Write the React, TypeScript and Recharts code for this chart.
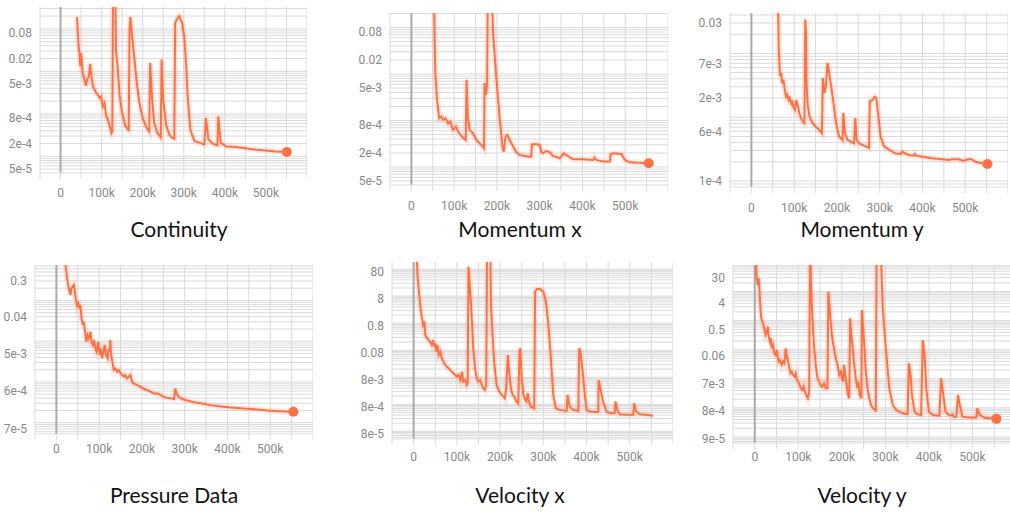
import { LineChart, Line, XAxis, YAxis, CartesianGrid, ReferenceLine, ReferenceDot } from 'recharts';

// [step (k), value]
const continuity: [number, number][] = [
    [40, 0.19], [44, 0.04], [46, 0.027], [48, 0.013], [50, 0.027], [54, 0.009], [58, 6.4e-3], [62, 4.6e-3], [65, 6.5e-3], [69, 7.5e-3],
    [72, 0.015], [75, 8e-3], [79, 4.4e-3], [83, 3.7e-3], [87, 3.1e-3], [91, 2.8e-3], [95, 2.4e-3], [99, 2.6e-3], [103, 1.5e-3], [107, 1.8e-3],
    [111, 9e-4], [115, 7.5e-4], [119, 5.5e-4], [124, 3.5e-4], [126, 3.8e-4], [128, 2], [133, 2], [135, 0.03], [139, 0.013], [144, 2.6e-3],
    [150, 1.05e-3], [157, 5.5e-4], [162, 4.5e-4], [166, 4.2e-4], [168, 0.1], [170, 0.19], [174, 0.07], [178, 0.03], [182, 0.012], [186, 5e-3],
    [192, 1.8e-3], [200, 8e-4], [208, 5e-4], [216, 3.8e-4], [218, 0.016], [223, 2.2e-3], [228, 6.1e-4], [236, 3.5e-4], [244, 2.8e-4], [246, 0.019],
    [250, 2.2e-3], [257, 5.5e-4], [265, 3.2e-4], [273, 2.7e-4], [277, 2.6e-4], [279, 0.137], [285, 0.18], [289, 0.2], [296, 0.137], [301, 0.067],
    [305, 0.019], [310, 2.2e-3], [316, 4.2e-4], [326, 2.3e-4], [338, 2.1e-4], [350, 1.9e-4], [354, 8e-4], [360, 2.5e-4], [370, 2e-4], [382, 1.8e-4],
    [384, 8.7e-4], [390, 2.1e-4], [403, 1.7e-4], [427, 1.65e-4], [451, 1.55e-4], [475, 1.44e-4], [500, 1.38e-4], [524, 1.31e-4], [551, 1.27e-4],
];

const momentumX: [number, number][] = [
    [52, 1], [56, 0.01], [60, 2.8e-3], [65, 1.12e-3], [70, 1.22e-3], [74, 1.03e-3], [80, 1.12e-3], [86, 8.7e-4], [91, 9.5e-4], [97, 6.3e-4],
    [104, 7.4e-4], [109, 5.8e-4], [115, 4.9e-4], [121, 4.2e-4], [127, 3.8e-4], [129, 7.5e-3], [132, 1.2e-3], [136, 6.3e-4], [144, 5.3e-4], [152, 3.8e-4],
    [160, 3.2e-4], [167, 2.75e-4], [170, 2.5e-4], [171, 6.4e-3], [175, 3.6e-3], [177, 6.4e-3], [179, 1], [187, 1], [191, 0.076], [199, 7.5e-3],
    [206, 1.22e-3], [213, 2.75e-4], [216, 2.1e-4], [220, 4.5e-4], [224, 4.9e-4], [230, 3.8e-4], [238, 2.75e-4], [245, 2.1e-4], [253, 1.82e-4], [265, 1.73e-4],
    [277, 1.67e-4], [280, 1.67e-4], [282, 3.1e-4], [292, 3.1e-4], [300, 3.0e-4], [304, 2.1e-4], [308, 1.97e-4], [315, 2.2e-4], [323, 2.1e-4], [331, 1.73e-4],
    [347, 1.54e-4], [356, 1.97e-4], [362, 1.82e-4], [370, 1.62e-4], [378, 1.47e-4], [401, 1.47e-4], [425, 1.42e-4], [428, 1.6e-4], [432, 1.42e-4], [448, 1.31e-4],
    [464, 1.31e-4], [466, 1.91e-4], [471, 1.97e-4], [491, 1.91e-4], [499, 1.42e-4], [510, 1.26e-4], [534, 1.24e-4], [555, 1.2e-4],
];

const momentumY: [number, number][] = [
    [62, 0.1], [64, 0.0114], [67, 4.4e-3], [70, 4.9e-3], [72, 3.4e-3], [75, 3.9e-3], [78, 2.7e-3], [81, 2.1e-3], [84, 2.25e-3], [87, 1.87e-3],
    [89, 2.0e-3], [93, 1.66e-3], [95, 1.87e-3], [98, 1.47e-3], [102, 1.3e-3], [105, 1.87e-3], [109, 1.47e-3], [112, 1.16e-3], [116, 9.7e-4], [120, 8.6e-4],
    [124, 8.1e-4], [126, 0.034], [128, 0.0209], [129, 3.4e-3], [132, 1.47e-3], [136, 1.03e-3], [143, 8.1e-4], [151, 7.1e-4], [159, 6.3e-4], [165, 5.6e-4],
    [167, 4.1e-3], [171, 2.4e-3], [174, 3.0e-3], [178, 7.1e-3], [182, 4.9e-3], [190, 2.1e-3], [198, 8.1e-4], [205, 5.0e-4], [213, 4.4e-4], [215, 1.16e-3],
    [219, 5.6e-4], [225, 4.4e-4], [240, 3.9e-4], [243, 9.7e-4], [246, 4.4e-4], [252, 3.9e-4], [267, 3.5e-4], [275, 3.3e-4], [277, 1.77e-3], [283, 1.87e-3],
    [289, 2.1e-3], [292, 2.0e-3], [297, 1.03e-3], [302, 5.0e-4], [310, 3.5e-4], [322, 3.1e-4], [337, 2.7e-4], [349, 2.66e-4], [353, 2.9e-4], [360, 2.7e-4],
    [368, 2.56e-4], [380, 2.5e-4], [382, 2.66e-4], [385, 2.5e-4], [399, 2.4e-4], [422, 2.27e-4], [446, 2.19e-4], [461, 2.14e-4], [469, 2.2e-4], [484, 2.19e-4],
    [496, 2.09e-4], [508, 2.19e-4], [515, 2.2e-4], [523, 2.01e-4], [539, 1.9e-4], [552, 1.85e-4],
];

const pressure: [number, number][] = [
    [20, 1.0], [25, 0.35], [29, 0.198], [33, 0.136], [35, 0.198], [38, 0.218], [41, 0.24], [43, 0.164], [45, 0.112], [48, 0.077],
    [51, 0.093], [53, 0.064], [56, 0.077], [59, 0.0363], [62, 0.0249], [64, 0.03], [67, 0.0171], [70, 9.7e-3], [73, 0.0142], [76, 0.0117],
    [80, 0.0171], [82, 9.7e-3], [85, 8.1e-3], [88, 0.0107], [91, 6.7e-3], [94, 5.5e-3], [98, 9.7e-3], [101, 4.6e-3], [103, 6.7e-3], [107, 3.8e-3],
    [110, 5.5e-3], [113, 8.1e-3], [116, 4.6e-3], [120, 3.8e-3], [122, 6.7e-3], [125, 5.5e-3], [126, 0.0107], [128, 4.6e-3], [131, 3.1e-3], [134, 1.96e-3],
    [138, 2.15e-3], [142, 1.78e-3], [146, 1.96e-3], [150, 1.62e-3], [154, 1.48e-3], [158, 1.34e-3], [161, 1.48e-3], [165, 1.22e-3], [169, 1.34e-3], [173, 1.48e-3],
    [177, 1.01e-3], [181, 9.2e-4], [189, 8.4e-4], [197, 7.6e-4], [204, 6.9e-4], [212, 6.3e-4], [220, 5.8e-4], [228, 5.2e-4], [236, 5.2e-4], [243, 4.8e-4],
    [251, 4.3e-4], [259, 4.1e-4], [267, 3.95e-4], [275, 3.8e-4], [278, 6.9e-4], [281, 5.2e-4], [286, 4.3e-4], [294, 3.8e-4], [306, 3.5e-4], [321, 3.2e-4],
    [337, 3.0e-4], [360, 2.7e-4], [384, 2.5e-4], [415, 2.33e-4], [454, 2.16e-4], [493, 2.0e-4], [532, 1.89e-4], [554, 1.86e-4],
];

const velocityX: [number, number][] = [
    [6, 1000], [9, 60], [13, 11], [17, 2.66], [22, 0.86], [25, 1.14], [27, 0.366], [31, 0.275], [35, 0.239], [38, 0.207],
    [42, 0.156], [45, 0.239], [48, 0.136], [50, 0.18], [52, 0.0885], [55, 0.156], [58, 0.0667], [62, 0.0885], [65, 0.0502], [69, 0.0378],
    [73, 0.0285], [77, 0.0247], [81, 0.0214], [85, 0.0186], [88, 0.0162], [92, 0.014], [96, 0.0122], [100, 0.0106], [104, 0.0122], [108, 7.9e-3],
    [112, 0.0162], [115, 6.9e-3], [119, 7.9e-3], [123, 5.2e-3], [125, 6.0e-3], [127, 122], [131, 14.6], [135, 1.14], [138, 0.118], [142, 0.0214],
    [146, 9.2e-3], [150, 6.9e-3], [154, 7.9e-3], [158, 5.2e-3], [161, 3.9e-3], [165, 3.4e-3], [168, 5.2e-3], [170, 1000], [177, 1000], [179, 4.7],
    [183, 0.275], [187, 0.0285], [192, 5.2e-3], [198, 2.95e-3], [204, 2.22e-3], [208, 1.93e-3], [211, 1.67e-3], [214, 3.9e-3], [218, 0.0667], [221, 0.0162],
    [225, 3.9e-3], [229, 2.22e-3], [235, 1.67e-3], [238, 1.26e-3], [242, 1.09e-3], [245, 0.0885], [247, 0.118], [250, 9.2e-3], [254, 2.22e-3], [258, 1.45e-3],
    [261, 1.26e-3], [264, 2.56e-3], [267, 1.26e-3], [271, 8.2e-4], [279, 7.1e-4], [281, 14.6], [285, 18.3], [292, 18.3], [300, 14.6], [306, 6.2],
    [311, 1.14], [317, 0.0667], [323, 2.22e-3], [329, 7.1e-4], [338, 6.2e-4], [354, 5.7e-4], [356, 2.22e-3], [361, 8.2e-4], [369, 6.2e-4], [381, 5.7e-4],
    [383, 0.118], [386, 0.0885], [391, 0.0162], [396, 2.22e-3], [400, 6.2e-4], [408, 5.4e-4], [427, 5.1e-4], [428, 7.9e-3], [432, 3.9e-3], [438, 1.26e-3],
    [446, 5.4e-4], [455, 4.7e-4], [465, 4.7e-4], [467, 1.26e-3], [471, 6.2e-4], [477, 4.3e-4], [492, 4.1e-4], [508, 4.1e-4], [510, 1.09e-3], [515, 5.4e-4],
    [523, 4.3e-4], [538, 4.1e-4], [554, 3.8e-4],
];

const velocityY: [number, number][] = [
    [1.5, 1000], [4, 37], [7, 16.8], [9, 28.5], [11, 9.9], [13, 2.65], [15, 1.2], [18, 0.92], [22, 0.54], [25, 0.32],
    [28, 0.42], [30, 0.62], [32, 0.28], [35, 0.19], [37, 0.246], [39, 0.112], [42, 0.146], [45, 0.075], [48, 0.066], [51, 0.098],
    [53, 0.051], [55, 0.039], [58, 0.0445], [62, 0.03], [65, 0.039], [68, 0.034], [71, 0.112], [73, 0.066], [75, 0.051], [78, 0.03],
    [82, 0.0155], [85, 0.0177], [88, 0.0135], [91, 0.0119], [94, 0.0155], [97, 9.0e-3], [100, 8.0e-3], [103, 6.1e-3], [106, 4.7e-3], [109, 4.1e-3],
    [112, 5.4e-3], [115, 3.6e-3], [118, 2.8e-3], [122, 2.14e-3], [125, 3.6e-3], [127, 1000], [129, 21.9], [132, 1.56], [136, 0.146], [140, 0.03],
    [144, 0.0104], [148, 8.0e-3], [151, 6.1e-3], [155, 5.4e-3], [159, 7.0e-3], [163, 4.7e-3], [167, 4.7e-3], [169, 9.9], [172, 2.65], [175, 0.71],
    [178, 0.246], [182, 0.112], [186, 0.051], [190, 0.03], [194, 0.0135], [198, 0.0177], [200, 0.0104], [203, 8.0e-3], [205, 0.03], [208, 0.0135],
    [211, 6.1e-3], [214, 2.8e-3], [217, 2.14e-3], [219, 1.2], [222, 0.32], [225, 0.112], [228, 0.034], [232, 0.0104], [236, 4.7e-3], [238, 8.0e-3],
    [241, 2.8e-3], [245, 2.14e-3], [246, 2.32], [249, 0.54], [252, 0.112], [255, 0.0177], [259, 4.7e-3], [263, 2.14e-3], [267, 1.26e-3], [272, 9.7e-4],
    [277, 8.5e-4], [278, 7.4e-4], [280, 1000], [288, 1000], [294, 2.65], [301, 0.112], [309, 4.7e-3], [317, 1.26e-3], [325, 8.5e-4], [332, 7.4e-4],
    [340, 6.5e-4], [351, 6.0e-4], [354, 0.034], [358, 0.0135], [361, 2.8e-3], [367, 7.4e-4], [374, 6.0e-4], [382, 5.7e-4], [386, 0.216], [390, 0.066],
    [394, 4.7e-3], [400, 7.4e-4], [409, 5.7e-4], [424, 5.4e-4], [428, 0.0104], [432, 3.6e-3], [438, 7.4e-4], [448, 5.4e-4], [454, 6.0e-4], [457, 5.0e-4],
    [463, 5.0e-4], [467, 2.8e-3], [471, 1.26e-3], [477, 5.0e-4], [486, 4.75e-4], [501, 4.6e-4], [509, 4.75e-4], [511, 9.7e-4], [517, 5.7e-4], [528, 4.6e-4],
    [540, 4.4e-4], [555, 4.2e-4],
];

// y tick labels per panel
const ticksContinuity = [0.08, 0.02, 5e-3, 8e-4, 2e-4, 5e-5];
const ticksMomentumY = [0.03, 7e-3, 2e-3, 6e-4, 1e-4];
const ticksPressure = [0.3, 0.04, 5e-3, 6e-4, 7e-5];
const ticksVelocityX = [80, 8, 0.8, 0.08, 8e-3, 8e-4, 8e-5];
const ticksVelocityY = [30, 4, 0.5, 0.06, 7e-3, 8e-4, 9e-5];
const stepTicks = [-50, 0, 50, 100, 150, 200, 250, 300, 350, 400, 450, 500, 550, 600];

const ORANGE = '#ff7043';
const YW = 50;

const fmtY = (v: number) => (v < 0.01 ? v.toExponential(0) : String(v));
const fmtX = (v: number) => (v % 100 === 0 && v >= 0 && v <= 500 ? (v === 0 ? '0' : `${v}k`) : '');

// minor log grid lines (1..9 x 10^d), the dense ones read as grey bands
const logGrid = (lo: number, hi: number) => {
    const out: number[] = [];
    for (let d = Math.floor(Math.log10(lo)); d <= Math.ceil(Math.log10(hi)); d++) {
        for (let k = 1; k < 10; k++) {
            const v = k * Math.pow(10, d);
            if (v >= lo && v <= hi) out.push(v);
        }
    }
    return out;
};

interface PanelProps {
    series: [number, number][];
    left: number;
    top: number;
    w: number;
    h: number;
    domain: [number, number];
    ticks: number[];
    xMargin: number;
    dot?: boolean;
}

const Panel = ({ series, left, top, w, h, domain, ticks, xMargin, dot = true }: PanelProps) => {
    const data = series.map(([step, v]) => ({ step, v }));
    const last = series[series.length - 1];
    const tickStyle = { fill: '#888', fontSize: 12, fontFamily: 'Roboto' };
    return (
        <div style={{ position: 'absolute', left: left - YW, top }}>
            <LineChart width={YW + w} height={h + 30} data={data} margin={{ top: 0, right: 0, bottom: 0, left: 0 }}>
                <CartesianGrid stroke="#dadada" horizontalValues={logGrid(domain[0], domain[1])} />
                <XAxis
                    dataKey="step"
                    type="number"
                    domain={[-50, 600]}
                    allowDataOverflow
                    ticks={stepTicks}
                    interval={0}
                    tickFormatter={fmtX}
                    height={30}
                    tickMargin={xMargin}
                    axisLine={{ stroke: '#ddd' }}
                    tickLine={{ stroke: '#ddd' }}
                    tick={tickStyle}
                />
                <YAxis
                    type="number"
                    scale="log"
                    domain={domain}
                    allowDataOverflow
                    ticks={ticks}
                    interval={0}
                    tickFormatter={fmtY}
                    width={YW}
                    axisLine={false}
                    tickLine={false}
                    tick={tickStyle}
                />
                <ReferenceLine x={0} stroke="#aaa" strokeWidth={2} />
                <Line dataKey="v" type="linear" stroke={ORANGE} strokeOpacity={0.15} strokeWidth={6} dot={false} isAnimationActive={false} />
                <Line dataKey="v" type="linear" stroke={ORANGE} strokeWidth={2} dot={false} isAnimationActive={false} />
                {dot && <ReferenceDot x={last[0]} y={last[1]} r={5} fill={ORANGE} stroke="none" />}
            </LineChart>
        </div>
    );
};

const Caption = ({ text, cx, top }: { text: string; cx: number; top: number }) => (
    <div
        style={{
            position: 'absolute',
            left: cx - 100,
            top,
            width: 200,
            textAlign: 'center',
            fontFamily: 'Lato, sans-serif',
            fontSize: 21,
            lineHeight: '20px',
            color: '#111',
        }}
    >
        {text}
    </div>
);

export default function App() {
    return (
        <div style={{ position: 'absolute', left: 0, top: 0, width: 1010, height: 514, overflow: 'hidden', background: '#fff' }}>
            <Panel series={continuity} left={40} top={7} w={267} h={166} domain={[4.06e-5, 0.327]} ticks={ticksContinuity} xMargin={9} />
            <Panel series={momentumX} left={390} top={13} w={278} h={172} domain={[4.1e-5, 0.205]} ticks={ticksContinuity} xMargin={10} />
            <Panel series={momentumY} left={730} top={13} w={278} h={174} domain={[8.07e-5, 0.043]} ticks={ticksMomentumY} xMargin={10} />
            <Panel series={pressure} left={35} top={265} w={278} h={169} domain={[5.28e-5, 0.741]} ticks={ticksPressure} xMargin={4} />
            <Panel series={velocityX} left={392} top={262} w={281} h={177} domain={[5.2e-5, 183]} ticks={ticksVelocityX} xMargin={7} dot={false} />
            <Panel series={velocityY} left={733} top={265} w={283} h={178} domain={[6.2e-5, 82]} ticks={ticksVelocityY} xMargin={3} />

            <Caption text="Continuity" cx={179} top={219} />
            <Caption text="Momentum x" cx={520} top={219} />
            <Caption text="Momentum y" cx={862} top={219} />
            <Caption text="Pressure Data" cx={174} top={485} />
            <Caption text="Velocity x" cx={520} top={485} />
            <Caption text="Velocity y" cx={862} top={485} />
        </div>
    );
}
